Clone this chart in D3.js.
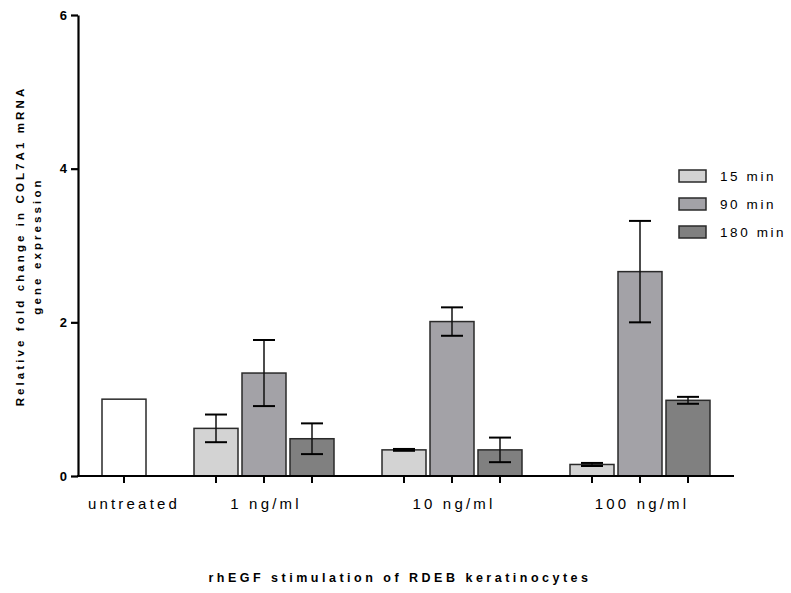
<!DOCTYPE html>
<html>
<head>
<meta charset="utf-8">
<title>COL7A1 expression</title>
<script src="https://d3js.org/d3.v7.min.js"></script>
<style>
  body { margin: 0; background: #fff; }
  text { font-family: "Liberation Sans", Arial, sans-serif; fill: #000; }
</style>
</head>
<body>
<div id="chart"></div>
<script>
// data
var categories = ["untreated", "1 ng/ml", "10 ng/ml", "100 ng/ml"]
var series = ["15 min", "90 min", "180 min"]
var untreatedValue = 1.0
var means15 = [0.62, 0.34, 0.15]
var means90 = [1.34, 2.01, 2.66]
var means180 = [0.485, 0.34, 0.985]
var err15 = [0.18, 0.012, 0.02]
var err90 = [0.43, 0.185, 0.66]
var err180 = [0.2, 0.16, 0.045]
var yTicks = [0, 2, 4, 6]
var colors = ["#d3d3d3", "#a3a2a7", "#808080"]

var width = 791, height = 593
var svg = d3.select("#chart").append("svg")
    .attr("width", width)
    .attr("height", height)

var axisX = 78, axisY = 476, axisRight = 734

var y = d3.scaleLinear().domain([0, 6]).range([axisY, 15])

// groups: bands of three bars, untreated sits in the last slot of the first band
var xGroup = d3.scaleBand()
    .domain(categories)
    .range([6, 710])
    .paddingInner(48 / 188)
    .paddingOuter(0)
var xSub = d3.scaleBand()
    .domain(series)
    .range([0, xGroup.bandwidth()])
    .paddingInner(4 / 48)

var bw = xSub.bandwidth()

// build bar table
var bars = []
bars.push({cat: "untreated", x: xGroup("untreated") + xGroup.bandwidth() - bw, v: untreatedValue, e: null, fill: "#fff"})
var allMeans = [means15, means90, means180]
var allErr = [err15, err90, err180]
categories.slice(1).forEach(function(c, i) {
    series.forEach(function(s, j) {
        bars.push({cat: c, x: xGroup(c) + xSub(s), v: allMeans[j][i], e: allErr[j][i], fill: colors[j]})
    })
})

var g = svg.append("g")

g.selectAll("rect.bar")
  .data(bars)
  .enter().append("rect")
    .attr("class", "bar")
    .attr("x", function(d) { return d.x })
    .attr("y", function(d) { return y(d.v) })
    .attr("width", bw)
    .attr("height", function(d) { return y(0) - y(d.v) })
    .style("fill", function(d) { return d.fill })
    .style("stroke", "#2a2a2a")
    .style("stroke-width", 1.5)

// error bars
var eb = bars.filter(function(d) { return d.e !== null })
var cap = 11
g.selectAll("line.ev")
  .data(eb).enter().append("line")
    .attr("x1", function(d) { return d.x + bw / 2 })
    .attr("x2", function(d) { return d.x + bw / 2 })
    .attr("y1", function(d) { return y(d.v + d.e) })
    .attr("y2", function(d) { return y(d.v - d.e) })
    .style("stroke", "#111").style("stroke-width", 1.5)
g.selectAll("line.ct")
  .data(eb).enter().append("line")
    .attr("x1", function(d) { return d.x + bw / 2 - cap })
    .attr("x2", function(d) { return d.x + bw / 2 + cap })
    .attr("y1", function(d) { return y(d.v + d.e) })
    .attr("y2", function(d) { return y(d.v + d.e) })
    .style("stroke", "#000").style("stroke-width", 2)
g.selectAll("line.cb")
  .data(eb).enter().append("line")
    .attr("x1", function(d) { return d.x + bw / 2 - cap })
    .attr("x2", function(d) { return d.x + bw / 2 + cap })
    .attr("y1", function(d) { return y(d.v - d.e) })
    .attr("y2", function(d) { return y(d.v - d.e) })
    .style("stroke", "#000").style("stroke-width", 2)

// y axis
var yAxis = svg.append("g")
    .attr("transform", "translate(" + axisX + ",0)")
    .call(d3.axisLeft(y).tickValues(yTicks).tickSize(7).tickSizeOuter(0).tickFormat(d3.format("d")))
yAxis.select(".domain").style("stroke", "#000").style("stroke-width", 2.2)
yAxis.selectAll(".tick line").style("stroke", "#000").style("stroke-width", 2.2)
yAxis.selectAll(".tick text")
    .attr("x", -11)
    .style("font-size", "13px")
    .style("font-weight", "bold")

// x axis
svg.append("line")
    .attr("x1", axisX - 1).attr("x2", axisRight)
    .attr("y1", axisY).attr("y2", axisY)
    .style("stroke", "#000").style("stroke-width", 2.2)
svg.selectAll("line.xt")
  .data(bars).enter().append("line")
    .attr("x1", function(d) { return d.x + bw / 2 })
    .attr("x2", function(d) { return d.x + bw / 2 })
    .attr("y1", axisY)
    .attr("y2", axisY + 7)
    .style("stroke", "#000").style("stroke-width", 2)

// category labels
var labelX = function(c) {
    if (c === "untreated") return xGroup(c) + xGroup.bandwidth() - bw / 2 + 10
    return xGroup(c) + xGroup.bandwidth() / 2 + 2
}
svg.selectAll("text.cat")
  .data(categories).enter().append("text")
    .attr("x", labelX)
    .attr("y", 509)
    .attr("text-anchor", "middle")
    .style("font-size", "15px")
    .style("letter-spacing", "3.2px")
    .text(function(d) { return d })

// axis titles
svg.append("text")
    .attr("x", 400).attr("y", 582)
    .attr("text-anchor", "middle")
    .style("font-size", "12.5px")
    .style("font-weight", "bold")
    .style("letter-spacing", "3.5px")
    .text("rhEGF stimulation of RDEB keratinocytes")

var yt = svg.append("g").attr("transform", "translate(0,246) rotate(-90)")
yt.append("text")
    .attr("x", 0).attr("y", 24)
    .attr("text-anchor", "middle")
    .style("font-size", "11.5px")
    .style("font-weight", "bold")
    .style("letter-spacing", "3.1px")
    .text("Relative fold change in COL7A1 mRNA")
yt.append("text")
    .attr("x", 0).attr("y", 41)
    .attr("text-anchor", "middle")
    .style("font-size", "11.5px")
    .style("font-weight", "bold")
    .style("letter-spacing", "3.1px")
    .text("gene expression")

// legend
var leg = svg.selectAll("g.leg")
  .data(series).enter().append("g")
    .attr("transform", function(d, i) { return "translate(679," + (170 + i * 28) + ")" })
leg.append("rect")
    .attr("width", 27).attr("height", 12)
    .style("fill", function(d, i) { return colors[i] })
    .style("stroke", "#2a2a2a").style("stroke-width", 1.5)
leg.append("text")
    .attr("x", 41).attr("y", 11)
    .style("font-size", "13.5px")
    .style("letter-spacing", "2.6px")
    .text(function(d) { return d })
</script>
</body>
</html>
